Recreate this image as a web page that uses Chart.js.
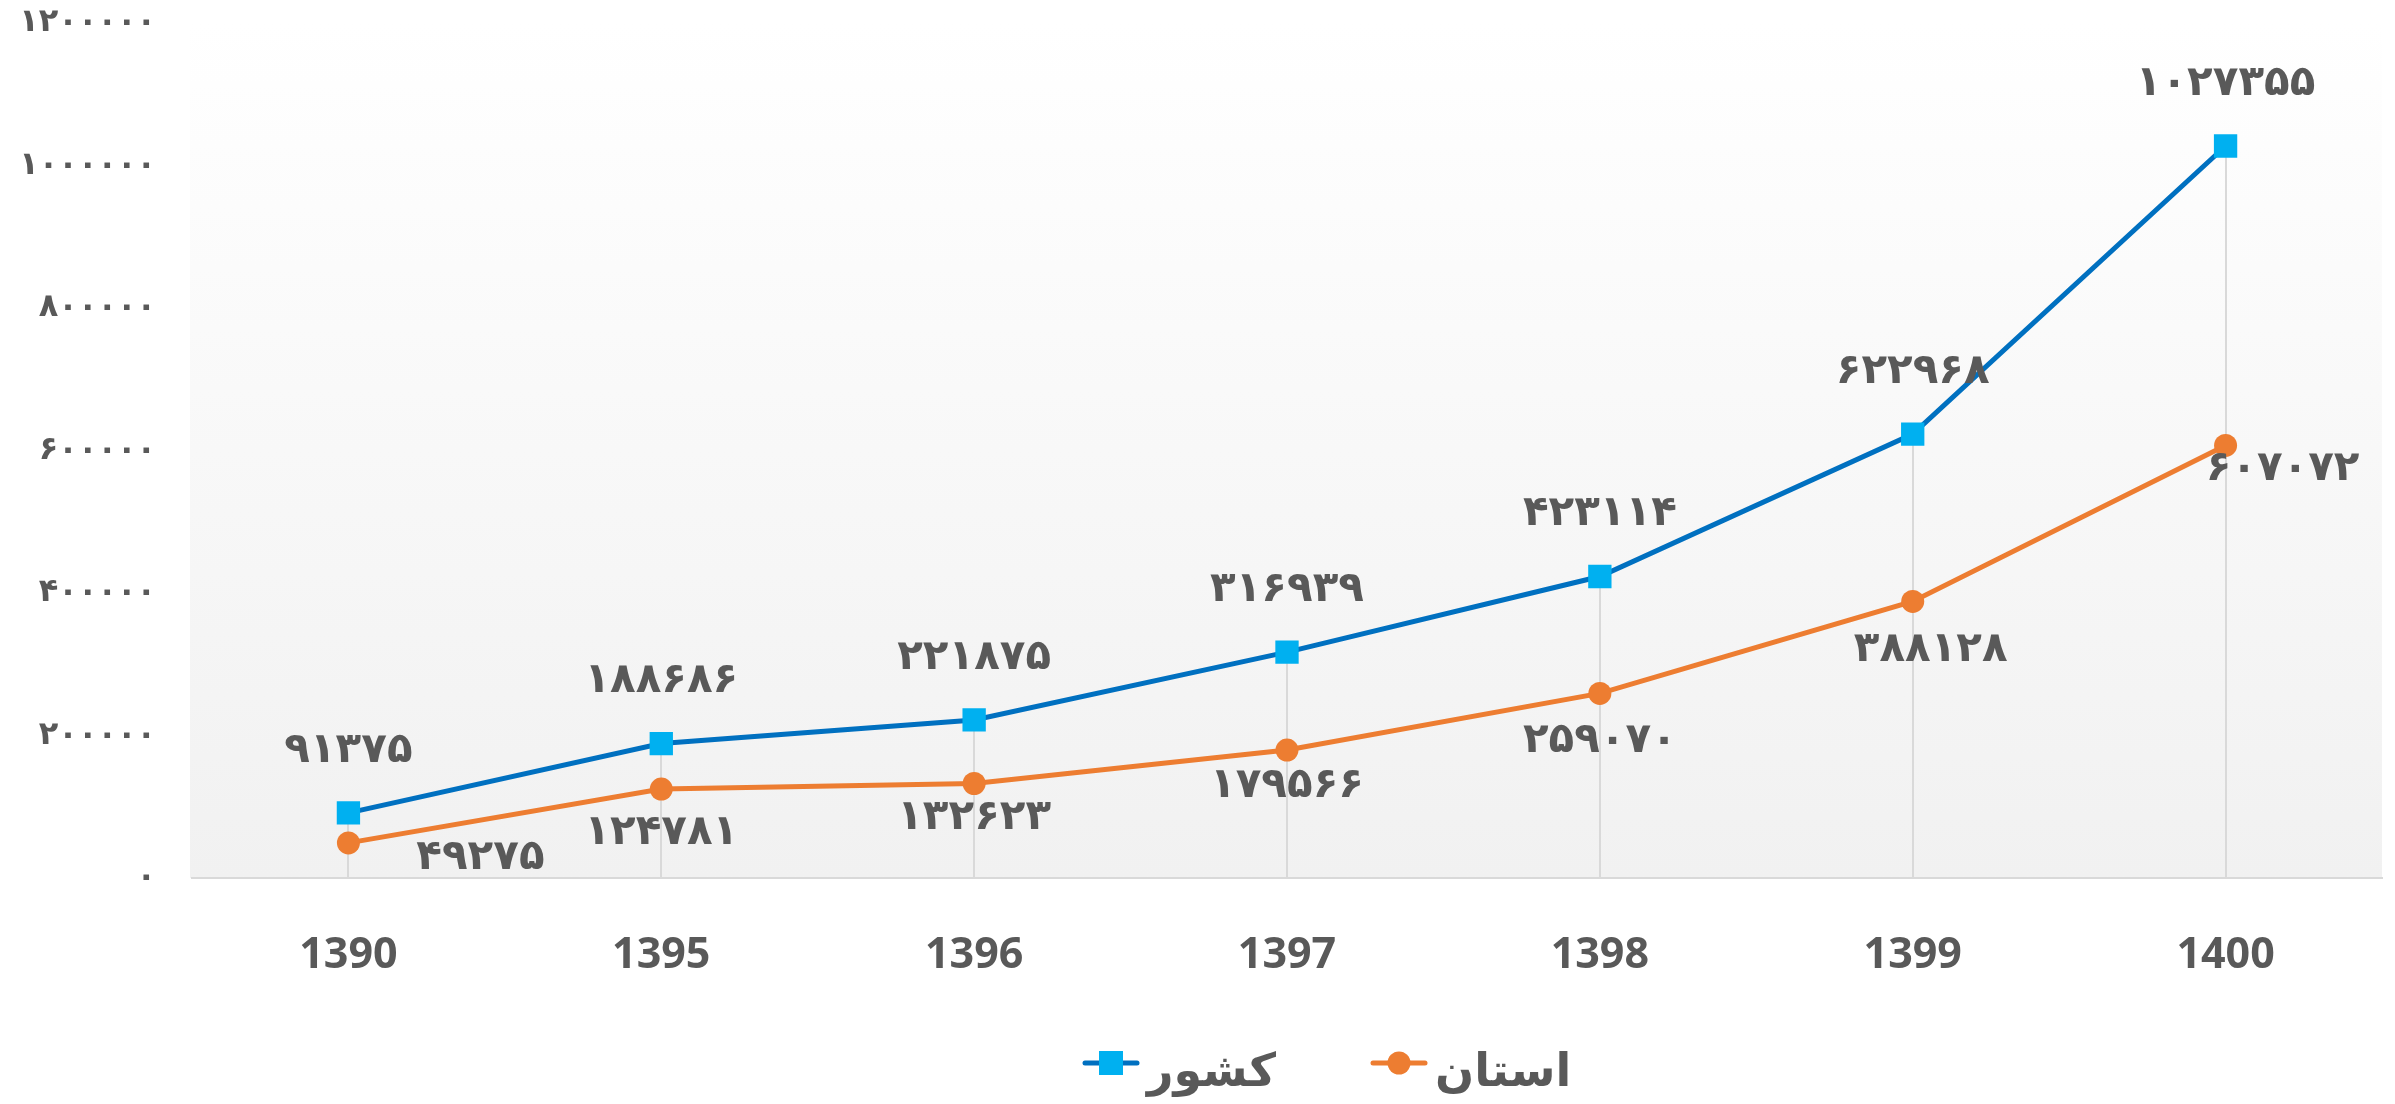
<!DOCTYPE html>
<html><head><meta charset="utf-8">
<script src="https://cdn.jsdelivr.net/npm/chart.js@4"></script>
<style>html,body{margin:0;padding:0;background:#fff;overflow:hidden}#wrap{width:2395px;height:1104px;position:relative}</style>
</head><body><div id="wrap"><canvas id="c"></canvas></div>
<script>
const categories = ['1390','1395','1396','1397','1398','1399','1400'];
const countryValues = [91375,188686,221875,316939,423114,622968,1027355];
const provinceValues = [49275,124781,132623,179566,259070,388128,607072];
const seriesNames = ['کشور','استان'];
const yTicks = [0,200000,400000,600000,800000,1000000,1200000];
// label offsets (px) relative to each point
const countryLabelOffsets = [[0,-62],[0,-62],[0,-62],[0,-62],[0,-62],[0,-62],[0,-62]];
const provinceLabelOffsets = [[132,15],[0,44],[0,35],[0,36],[0,48],[18,49],[57,24]];

const TEXT = '#595959';
const BLUE_LINE = '#0070C0', BLUE_MARK = '#00B0F0', ORANGE = '#ED7D31';
const fa = v => String(v).replace(/\d/g, d => '۰۱۲۳۴۵۶۷۸۹'[d]);

const custom = {
  id: 'custom',
  beforeDraw(chart) {
    const {ctx, chartArea: a} = chart;
    const g = ctx.createLinearGradient(0, a.top, 0, a.bottom);
    g.addColorStop(0, '#ffffff');
    g.addColorStop(1, '#f1f1f1');
    ctx.save();
    ctx.fillStyle = g;
    ctx.fillRect(a.left - 2, a.top, a.right - a.left + 2, a.bottom - a.top);
    ctx.restore();
  },
  beforeDatasetsDraw(chart) {
    const {ctx, chartArea: a, scales: {x, y}} = chart;
    ctx.save();
    ctx.strokeStyle = '#d9d9d9';
    ctx.lineWidth = 2;
    categories.forEach((c, i) => {
      const top = Math.min(y.getPixelForValue(countryValues[i]), y.getPixelForValue(provinceValues[i]));
      const px = Math.round(x.getPixelForValue(i));
      ctx.beginPath();
      ctx.moveTo(px, top);
      ctx.lineTo(px, a.bottom);
      ctx.stroke();
    });
    ctx.restore();
  },
  afterDatasetsDraw(chart) {
    const {ctx, scales: {x, y}} = chart;
    ctx.save();
    ctx.font = 'bold 42px "DejaVu Sans"';
    ctx.fillStyle = TEXT;
    ctx.textAlign = 'center';
    ctx.textBaseline = 'middle';
    const draw = (vals, offs) => vals.forEach((v, i) => {
      ctx.fillText(fa(v), x.getPixelForValue(i) + offs[i][0], y.getPixelForValue(v) + offs[i][1]);
    });
    draw(countryValues, countryLabelOffsets);
    draw(provinceValues, provinceLabelOffsets);
    ctx.restore();
    ctx.letterSpacing = '15px';
  },
  afterDraw(chart) {
    const {ctx} = chart;
    ctx.letterSpacing = '0px';
    ctx.save();
    const ly = 1063;
    ctx.lineCap = 'round';
    ctx.lineWidth = 5;
    ctx.strokeStyle = BLUE_LINE;
    ctx.beginPath(); ctx.moveTo(1085, ly); ctx.lineTo(1137, ly); ctx.stroke();
    ctx.fillStyle = BLUE_MARK;
    ctx.fillRect(1099, ly - 12, 24, 24);
    ctx.strokeStyle = ORANGE;
    ctx.beginPath(); ctx.moveTo(1373, ly); ctx.lineTo(1425, ly); ctx.stroke();
    ctx.fillStyle = ORANGE;
    ctx.beginPath(); ctx.arc(1399, ly, 11.5, 0, Math.PI * 2); ctx.fill();
    ctx.font = 'bold 46px "DejaVu Sans"';
    ctx.fillStyle = TEXT;
    ctx.textBaseline = 'alphabetic';
    ctx.textAlign = 'left';
    ctx.fillText(seriesNames[0], 1147, 1086);
    ctx.fillText(seriesNames[1], 1435, 1086);
    ctx.restore();
  }
};

new Chart(document.getElementById('c'), {
  type: 'line',
  data: {
    labels: categories,
    datasets: [
      { label: seriesNames[0], data: countryValues, borderColor: BLUE_LINE, borderWidth: 5,
        pointStyle: 'rect', pointRadius: 16.5, pointBackgroundColor: BLUE_MARK, pointBorderColor: BLUE_MARK,
        pointBorderWidth: 0, tension: 0 },
      { label: seriesNames[1], data: provinceValues, borderColor: ORANGE, borderWidth: 5,
        pointStyle: 'circle', pointRadius: 11.5, pointBackgroundColor: ORANGE, pointBorderColor: ORANGE,
        pointBorderWidth: 0, tension: 0 }
    ]
  },
  options: {
    responsive: true, maintainAspectRatio: false, animation: false,
    layout: { autoPadding: false, padding: { left: 0, right: 13, top: 23, bottom: 0 } },
    plugins: { legend: { display: false }, tooltip: { enabled: false } },
    scales: {
      x: {
        offset: true,
        grid: { display: false, drawTicks: false },
        border: { display: true, color: '#d9d9d9', width: 2 },
        ticks: { color: TEXT, font: { family: '"Open Sans"', weight: 'bold', size: 43 }, padding: 52 },
        afterFit(s) { s.height = 226; s.paddingLeft = 0; s.paddingRight = 0; }
      },
      y: {
        min: 0, max: 1200000,
        grid: { display: false, drawTicks: false },
        border: { display: false },
        afterBuildTicks(s) { s.ticks = yTicks.map(v => ({ value: v })); },
        ticks: { color: TEXT, font: { family: '"DejaVu Sans"', weight: 'bold', size: 32 }, padding: 36, z: 1,
                 callback: v => fa(v) },
        afterFit(s) { s.width = 192; s.paddingTop = 0; s.paddingBottom = 0; }
      }
    }
  },
  plugins: [custom]
});
</script>
</body></html>
